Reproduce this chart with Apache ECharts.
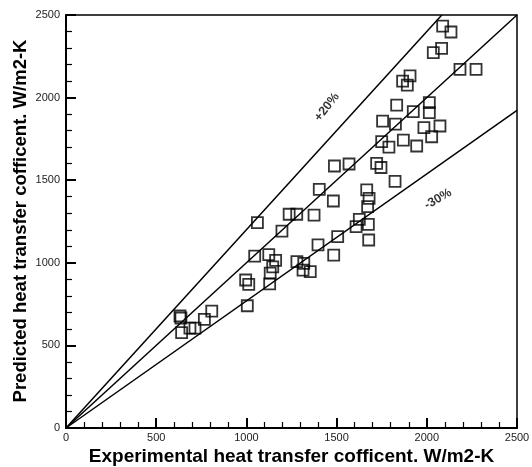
<!DOCTYPE html>
<html>
<head>
<meta charset="utf-8">
<script src="https://cdn.jsdelivr.net/npm/echarts@6/dist/echarts.min.js"></script>
<style>
  html, body { margin: 0; padding: 0; background: #fff; }
  #chart { width: 532px; height: 467px; }
</style>
</head>
<body>
<div id="chart"></div>
<script>
// experimental vs predicted heat transfer coefficient (W/m2-K)
const experimental = [632, 637, 641, 687, 715, 767, 808, 1005, 996, 1013, 1046, 1061, 1124, 1162, 1146, 1132,
  1129, 1197, 1237, 1279, 1375, 1280, 1318, 1314, 1354, 1397, 1484, 1506, 1404, 1482, 1488, 1569, 1608, 1626,
  1676, 1678, 1667, 1680, 1672, 1722, 1746, 1824, 1750, 1790, 1755, 1826, 1870, 1944, 1984, 2073, 2027, 1833,
  1925, 2014, 2014, 1866, 1892, 1907, 2036, 2082, 2088, 2134, 2184, 2273];
const predicted = [678, 666, 577, 604, 604, 658, 708, 740, 896, 870, 1041, 1243, 1049, 1015, 975, 938,
  872, 1192, 1294, 1294, 1289, 1007, 997, 956, 946, 1108, 1047, 1158, 1445, 1374, 1586, 1598, 1219, 1263,
  1233, 1138, 1441, 1390, 1340, 1602, 1577, 1493, 1733, 1700, 1858, 1840, 1743, 1707, 1818, 1828, 1763, 1955,
  1915, 1969, 1909, 2100, 2076, 2131, 2272, 2298, 2433, 2397, 2171, 2171];

// reference lines: perfect agreement, +20%, -30%
const perfectLine = [[0, 0], [2500, 2500]];
const plus20Line = [[0, 0], [2083.3, 2500]];
const minus30Line = [[0, 0], [2500, 1923]];
const bandLabels = [[1447, 1943, '+20%', 52], [2062, 1386, '-30%', 30]];

const xTitle = 'Experimental heat transfer cofficent. W/m2-K';
const yTitle = 'Predicted heat transfer cofficent. W/m2-K';

const axisMin = 0;
const axisMax = 2500;
const axisStep = 500;

const points = experimental.map((x, i) => [x, predicted[i]]);

const chart = echarts.init(document.getElementById('chart'));

const axisCommon = {
  type: 'value',
  min: axisMin,
  max: axisMax,
  interval: axisStep,
  axisLine: { show: true, lineStyle: { color: '#000', width: 2 } },
  axisTick: { show: true, inside: true, length: 10, lineStyle: { color: '#000', width: 2 } },
  minorTick: { show: true, splitNumber: 5, length: 6, lineStyle: { color: '#000', width: 1.2 } },
  axisLabel: { fontFamily: 'Liberation Sans', fontSize: 11, color: '#222', formatter: v => String(v) },
  splitLine: { show: false }
};

const refLine = (data) => ({
  type: 'line',
  data: data,
  symbol: 'none',
  silent: true,
  lineStyle: { color: '#000', width: 1.5 }
});

const titleStyle = (text, size) => ({
  text: text,
  fontFamily: 'Liberation Sans',
  fontWeight: 'bold',
  fontSize: size,
  fill: '#000',
  align: 'center',
  verticalAlign: 'middle'
});

chart.setOption({
  animation: false,
  grid: {
    left: 66,
    right: 15,
    top: 15,
    bottom: 39,
    containLabel: false,
    outerBoundsMode: 'none',
    show: true,
    borderColor: '#000',
    borderWidth: 1.5
  },
  // axis titles drawn as text so they sit exactly where the original has them
  graphic: [
    { type: 'text', x: 291.5, y: 457, style: titleStyle(xTitle, 19), silent: true },
    { type: 'text', x: 21, y: 221, rotation: Math.PI / 2, style: titleStyle(yTitle, 18.5), silent: true }
  ],
  xAxis: Object.assign({}, axisCommon, {
    axisLabel: Object.assign({}, axisCommon.axisLabel, { margin: 4 })
  }),
  yAxis: Object.assign({}, axisCommon, {
    axisLabel: Object.assign({}, axisCommon.axisLabel, { margin: 6 })
  }),
  series: [
    refLine(perfectLine),
    refLine(plus20Line),
    refLine(minus30Line),
    {
      type: 'scatter',
      data: points,
      symbol: 'rect',
      symbolSize: 11,
      itemStyle: { color: 'rgba(255,255,255,0)', borderColor: '#000', borderWidth: 1.8 }
    },
    {
      type: 'scatter',
      data: bandLabels.map(d => ({ value: [d[0], d[1]], name: d[2], label: { rotate: d[3] } })),
      symbolSize: 0,
      silent: true,
      label: {
        show: true,
        position: 'inside',
        formatter: p => p.name,
        fontFamily: 'Liberation Sans',
        fontWeight: 'bold',
        fontSize: 12.5,
        color: '#000'
      }
    }
  ]
});
</script>
</body>
</html>
